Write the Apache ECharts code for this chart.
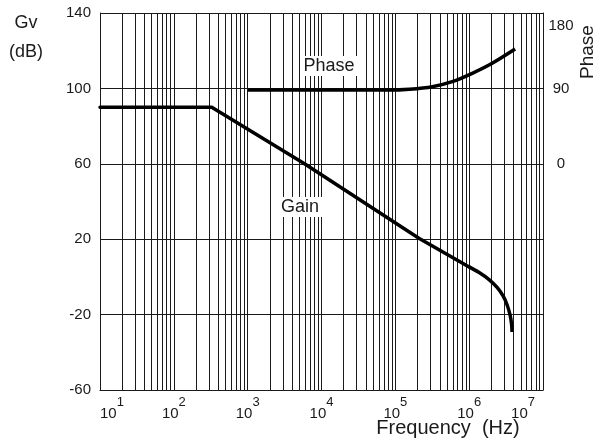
<!DOCTYPE html>
<html>
<head>
<meta charset="utf-8">
<script src="https://cdn.jsdelivr.net/npm/echarts@6/dist/echarts.min.js"></script>
<style>html,body{margin:0;padding:0;background:#fff}#c{width:601px;height:441px}</style>
</head>
<body>
<div id="c"></div>
<script>
// Data
const gainFreq = [10, 326, 5890, 211000, 1000000, 1365000, 1860000, 2390000, 2880000, 3270000, 3580000, 3750000, 3810000];
const gainDb   = [90, 90, 60, 20.4, 5.3, 2.3, -1.4, -5.6, -10.1, -14.9, -20.2, -25, -29.2];
const gainStraightCount = 5; // first points joined by straight segments, rest is the roll-off curve
const phaseFreq = [1000, 83000, 155000, 316000, 590000, 1100000, 2050000, 4190000];
const phaseDeg  = [88, 88, 89, 92, 98, 108, 120, 137];
const gainTicks = [-60, -20, 20, 60, 100, 140];
const phaseTickLabels = [0, 90, 180];
const decadeExps = [1, 2, 3, 4, 5, 6, 7];
const minorMultipliers = [2, 3, 4, 5, 6, 7, 8, 9];

const FONT = "'Liberation Sans', Arial, sans-serif";
const INK = '#1a1a1a';

const minorLines = [];
decadeExps.slice(0, -1).forEach(e => {
  minorMultipliers.forEach(m => minorLines.push({ xAxis: m * Math.pow(10, e) }));
});
const gainPts = gainFreq.map((f, i) => [f, gainDb[i]]);
const lastExp = decadeExps[decadeExps.length - 1];

const chart = echarts.init(document.getElementById('c'), null, { renderer: 'canvas' });
chart.setOption({
  animation: false,
  backgroundColor: '#fff',
  grid: { left: 100, right: 58, top: 13, bottom: 51, containLabel: false },
  xAxis: {
    type: 'log', logBase: 10, min: 10, max: 1e7,
    axisLine: { show: true, onZero: false, lineStyle: { color: INK, width: 1 } },
    axisTick: { show: false },
    splitLine: { show: true, lineStyle: { color: INK, width: 1 } },
    axisLabel: {
      margin: 6,
      alignMinLabel: 'left', alignMaxLabel: 'right',
      formatter: v => {
        const e = Math.round(Math.log10(v));
        return '{b|10}{' + (e === lastExp ? 'sl' : 's') + '|' + e + '}';
      },
      rich: {
        b: { fontSize: 15, fontFamily: FONT, color: INK, verticalAlign: 'bottom', padding: [10, 0, 0, 0] },
        s: { fontSize: 13, fontFamily: FONT, color: INK, verticalAlign: 'top', padding: [0, 0, 10, 0] },
        sl: { fontSize: 13, fontFamily: FONT, color: INK, verticalAlign: 'top', padding: [0, 8, 10, 0] }
      }
    }
  },
  yAxis: [
    {
      type: 'value', min: -60, max: 140, interval: 40,
      axisLine: { show: true, lineStyle: { color: INK, width: 1 } },
      axisTick: { show: false },
      splitLine: { show: true, lineStyle: { color: INK, width: 1 } },
      axisLabel: { margin: 9, fontSize: 15, fontFamily: FONT, color: INK }
    },
    {
      type: 'value', min: -270, max: 180, interval: 90, position: 'right',
      axisLine: { show: true, lineStyle: { color: INK, width: 1 } },
      axisTick: { show: false },
      splitLine: { show: false },
      axisLabel: {
        margin: 18, align: 'center', fontSize: 15, fontFamily: FONT, color: INK,
        formatter: v => phaseTickLabels.indexOf(v) < 0 ? '' : (v === 180 ? '{t|180}' : String(v)),
        rich: { t: { fontSize: 15, fontFamily: FONT, color: INK, padding: [26, 0, 0, 0] } }
      }
    }
  ],
  series: [
    {
      type: 'line', name: 'Gain', yAxisIndex: 0,
      data: gainPts.slice(0, gainStraightCount),
      showSymbol: false, smooth: false,
      lineStyle: { color: '#000', width: 3.5, join: 'round', cap: 'round' },
      markLine: {
        silent: true, symbol: ['none', 'none'], label: { show: false },
        lineStyle: { color: INK, width: 1, type: 'solid' },
        emphasis: { disabled: true },
        data: minorLines
      },
      z: 5
    },
    {
      type: 'line', name: 'Gain roll-off', yAxisIndex: 0,
      data: gainPts.slice(gainStraightCount - 1),
      showSymbol: false, smooth: 0.35,
      lineStyle: { color: '#000', width: 3.5, cap: 'butt' },
      z: 5
    },
    {
      type: 'line', name: 'Phase', yAxisIndex: 1,
      data: phaseFreq.map((f, i) => [f, phaseDeg[i]]),
      showSymbol: false, smooth: 0.3,
      lineStyle: { color: '#000', width: 3.5 },
      z: 5
    }
  ],
  graphic: [
    { type: 'text', z: 100, x: 26, y: 23, style: { text: 'Gv', font: '18px ' + FONT, fill: INK, align: 'center', verticalAlign: 'middle' } },
    { type: 'text', z: 100, x: 26, y: 52, style: { text: '(dB)', font: '18px ' + FONT, fill: INK, align: 'center', verticalAlign: 'middle' } },
    { type: 'text', z: 100, x: 588, y: 52, rotation: Math.PI / 2, style: { text: 'Phase', font: '19px ' + FONT, fill: INK, align: 'center', verticalAlign: 'middle' } },
    { type: 'text', z: 100, x: 329, y: 66, style: { text: 'Phase', font: '18px ' + FONT, fill: INK, align: 'center', verticalAlign: 'middle', backgroundColor: '#fff', padding: [1, 3] } },
    { type: 'text', z: 100, x: 300, y: 207, style: { text: 'Gain', font: '18px ' + FONT, fill: INK, align: 'center', verticalAlign: 'middle', backgroundColor: '#fff', padding: [1, 3] } },
    { type: 'text', z: 100, x: 448, y: 428, style: { text: 'Frequency  (Hz)', font: '20px ' + FONT, fill: INK, align: 'center', verticalAlign: 'middle' } }
  ]
});
</script>
</body>
</html>
